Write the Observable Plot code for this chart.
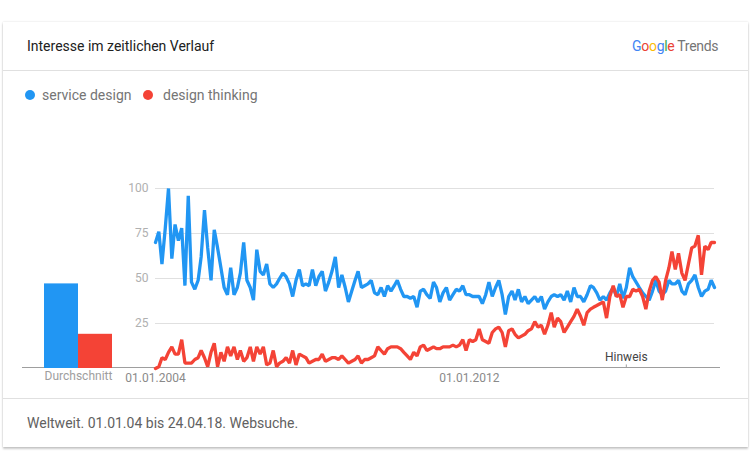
<!DOCTYPE html>
<html><head><meta charset="utf-8">
<script src="https://cdn.jsdelivr.net/npm/d3@7"></script>
<script src="https://cdn.jsdelivr.net/npm/@observablehq/plot@0.6"></script>
<style>
body{margin:0;background:#fff;font-family:Roboto,sans-serif;width:752px;height:470px;position:relative;overflow:hidden}
.abs{position:absolute}
#card{left:3px;top:22px;width:745px;height:425px;background:#fff;box-shadow:0 0 2px rgba(0,0,0,0.14),0 2px 2px rgba(0,0,0,0.2)}
.sep{height:1px;background:#e0e0e0}
#title{left:27px;top:37px;font-size:14px;line-height:18px;color:#212121}
#logo{left:632px;top:37px;font-size:14px;line-height:18px;letter-spacing:-0.3px}
.leg{top:87px;font-size:14px;line-height:16px;color:#757575}
.dot{width:10px;height:10px;border-radius:5px;top:90px}
#foot{left:27px;top:414px;font-size:14px;line-height:18px;color:#616161}
</style></head><body>
<div id="card" class="abs"></div>
<div class="abs sep" style="left:3px;top:70px;width:745px"></div>
<div class="abs sep" style="left:3px;top:398px;width:745px"></div>
<div id="title" class="abs">Interesse im zeitlichen Verlauf</div>
<div id="logo" class="abs"><span style="color:#4285F4">G</span><span style="color:#EA4335">o</span><span style="color:#FBBC05">o</span><span style="color:#4285F4">g</span><span style="color:#34A853">l</span><span style="color:#EA4335">e</span><span style="color:#757575"> Trends</span></div>
<div id="legend"></div>
<div id="foot" class="abs">Weltweit. 01.01.04 bis 24.04.18. Websuche.</div>
<div class="abs" style="left:22px;top:367px;width:698px;height:1px;background:#9e9e9e"></div>
<div id="bars" class="abs" style="left:20px;top:180px"></div>
<div id="lines" class="abs" style="left:112px;top:180px"></div>
<script>
const seriesNames = ["service design", "design thinking"];
const seriesColors = ["#2196F3", "#F44336"];
const startMonth = "2004-01-01";
const serviceDesign = [
70,76,58,78,100,61,80,71,78,46,96,48,44,49,62,88,67,49,77,67,56,45,41,56,41,
45,53,70,49,45,38,66,54,52,58,47,45,47,50,53,51,47,40,49,55,46,47,46,55,46,
51,54,43,48,54,62,45,52,45,37,43,49,54,45,46,47,49,42,41,45,40,46,43,46,49,
44,40,40,39,40,34,43,44,41,39,48,45,37,42,45,38,41,44,43,46,41,41,40,40,40,
36,41,48,40,45,49,41,30,40,43,38,44,37,40,36,38,40,37,40,33,37,40,41,40,41,
38,43,37,45,40,40,37,41,46,45,42,38,40,38,42,45,40,47,39,45,56,51,48,45,42,
40,38,43,49,43,41,43,49,47,47,49,43,41,47,49,52,45,40,43,44,49,45
];
const designThinking = [
0,1,6,5,9,12,8,8,16,3,3,3,5,6,10,6,1,9,14,1,9,4,12,7,12,
5,10,4,6,12,4,12,8,12,2,3,10,1,3,4,6,3,10,2,8,7,6,3,4,5,
5,8,4,5,6,6,5,7,5,3,4,5,7,3,5,5,6,7,12,10,8,11,12,12,12,
11,9,7,5,9,7,12,13,10,11,12,11,11,12,12,12,13,12,13,16,10,16,15,16,22,
16,15,14,20,22,23,20,12,21,22,19,17,18,19,21,22,26,23,24,19,24,31,23,28,26,
20,23,26,29,33,29,24,31,33,34,35,36,37,28,40,46,40,41,34,40,40,44,43,44,40,
33,43,49,51,48,38,49,56,65,55,64,53,49,58,67,68,74,52,68,66,70,70
];
const averages = [47, 19];
const averageLabel = "Durchschnitt";
const yTicks = [25, 50, 75, 100];
const xTickDates = ["2004-01-01", "2012-01-01"];
const xTickLabels = ["01.01.2004", "01.01.2012"];
const noteDate = "2016-01-01";
const noteLabel = "Hinweis";

// legend
const leg = document.getElementById("legend");
const legX = [[25, 42], [143, 163]];
seriesNames.forEach((n, i) => {
  const d = document.createElement("div");
  d.className = "abs dot"; d.style.left = legX[i][0] + "px"; d.style.background = seriesColors[i];
  leg.appendChild(d);
  const t = document.createElement("div");
  t.className = "abs leg"; t.style.left = legX[i][1] + "px"; t.textContent = n;
  leg.appendChild(t);
});

const color = {domain: seriesNames, range: seriesColors};
const start = new Date(startMonth);
const rows = [];
[serviceDesign, designThinking].forEach((vals, s) => {
  vals.forEach((v, i) => rows.push({date: d3.utcMonth.offset(start, i), value: v, series: seriesNames[s]}));
});

const common = {height: 210, marginTop: 8, marginBottom: 22, y: {domain: [0, 100]}, color,
  style: {fontFamily: "Roboto, sans-serif", fontSize: "12px", background: "transparent", overflow: "visible"}};

const bars = Plot.plot({
  ...common, width: 115, marginLeft: 24, marginRight: 23,
  x: {domain: seriesNames, padding: 0, axis: null},
  y: {domain: [0, 100], axis: null},
  marks: [
    Plot.barY(seriesNames.map((n, i) => ({series: n, value: averages[i]})), {x: "series", y: "value", fill: "series"}),
    Plot.text([averageLabel], {frameAnchor: "bottom", dy: 11, fill: "#9e9e9e", fontSize: 12})
  ]
});
document.getElementById("bars").appendChild(bars);

const tickDates = xTickDates.map(d => new Date(d));
const lines = Plot.plot({
  ...common, width: 620, marginLeft: 43, marginRight: 18,
  x: {type: "utc", domain: [start, d3.utcMonth.offset(start, serviceDesign.length - 1)]},
  marks: [
    Plot.gridY(yTicks, {stroke: "#e0e0e0", strokeOpacity: 1}),
    Plot.axisY(yTicks, {tickSize: 0, tickPadding: 7, fill: "#b0b0b0", fontSize: 12, label: null}),
    Plot.axisX(tickDates, {tickSize: 0, tickPadding: 5, fill: "#8a8a8a", fontSize: 12, label: null,
      tickFormat: d => xTickLabels[tickDates.findIndex(t => +t === +d)]}),
    Plot.line(rows, {x: "date", y: "value", stroke: "series", strokeWidth: 3.3, strokeLinejoin: "miter"}),
    Plot.ruleX([new Date(noteDate)], {y1: 0, y2: 2, stroke: "#9e9e9e"}),
    Plot.text([noteLabel], {x: () => new Date(noteDate), y: () => 0, dy: -11, fill: "#444", fontSize: 12})
  ]
});
document.getElementById("lines").appendChild(lines);
</script>
</body></html>
